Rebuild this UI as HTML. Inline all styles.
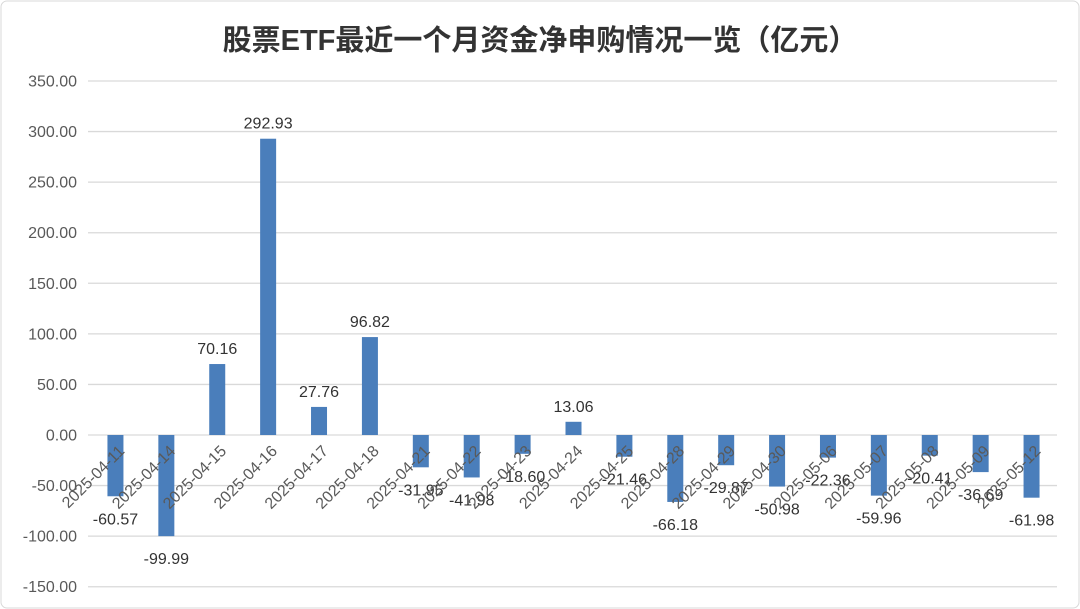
<!DOCTYPE html>
<html><head><meta charset="utf-8"><style>
html,body{margin:0;padding:0;background:#fff;}
svg{display:block;font-family:"Liberation Sans","Noto Sans CJK SC",sans-serif;}
</style></head><body>
<svg id="chart" width="1080" height="609" viewBox="0 0 1080 609">
<rect x="1" y="1" width="1078" height="607" rx="6" fill="#fff" stroke="#d9d9d9"/>
<text x="540" y="50" text-anchor="middle" font-size="29" font-weight="bold" fill="#333">股票ETF最近一个月资金净申购情况一览（亿元）</text>
<g id="grid"></g><g id="bars"></g><g id="labels"></g>
</svg>
<script>
const categories=["2025-04-11","2025-04-14","2025-04-15","2025-04-16","2025-04-17","2025-04-18","2025-04-21","2025-04-22","2025-04-23","2025-04-24","2025-04-25","2025-04-28","2025-04-29","2025-04-30","2025-05-06","2025-05-07","2025-05-08","2025-05-09","2025-05-12"];
const values=[-60.57,-99.99,70.16,292.93,27.76,96.82,-31.95,-41.98,-18.60,13.06,-21.46,-66.18,-29.87,-50.98,-22.36,-59.96,-20.41,-36.69,-61.98];
const ticks=[350,300,250,200,150,100,50,0,-50,-100,-150];
const NS="http://www.w3.org/2000/svg";
const left=90,right=1057,y0px=435,pxPer=354/350;
const y=v=>y0px-v*pxPer;
const step=(right-left)/categories.length;
const xc=i=>left+step*(i+0.5);
function mk(t,a,p,txt){const e=document.createElementNS(NS,t);for(const k in a)e.setAttribute(k,a[k]);if(txt!==undefined)e.textContent=txt;p.appendChild(e);return e;}
const grid=document.getElementById('grid'),bars=document.getElementById('bars'),labels=document.getElementById('labels');
ticks.forEach(t=>{
 const l=mk('line',{x1:88,x2:right,y1:y(t),y2:y(t),stroke:'#d9d9d9','stroke-width':1.3},grid);
 
 
 const tx=mk('text',{x:77,y:y(t)+5.5,'text-anchor':'end','font-size':16,fill:'#595959'},grid,t.toFixed(2));
 
 
});
values.forEach((v,i)=>{
 const top=Math.min(y(v),y0px),h=Math.abs(y(v)-y0px);
 const r=mk('rect',{x:xc(i)-8,y:top,width:16,height:h,fill:'#4a7ebb'},bars);
 
 
 const vy=v>=0?y(v)-10:y(v)+28;
 const vt=mk('text',{x:xc(i),y:vy,'text-anchor':'middle','font-size':16,fill:'#333'},labels,v.toFixed(2));
 
 
 const cx=xc(i)+10,cy=452;
 const dt=mk('text',{x:cx,y:cy,'text-anchor':'end','font-size':16,fill:'#595959',transform:`rotate(-45 ${cx} ${cy})`},labels,categories[i]);
 
 
});
</script>
</body></html>
